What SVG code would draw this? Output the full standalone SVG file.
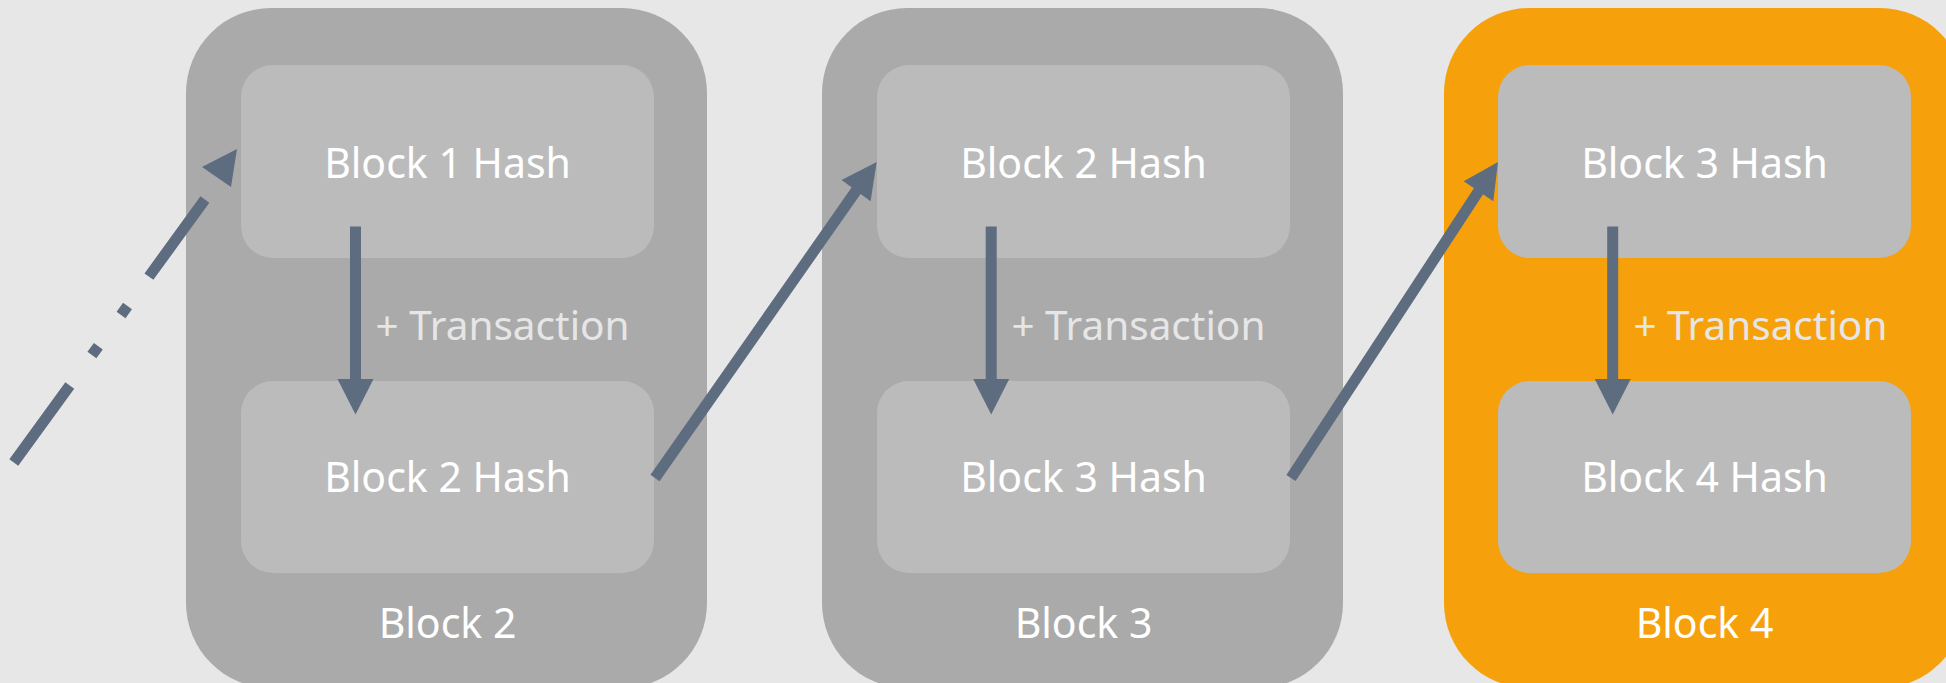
<svg xmlns="http://www.w3.org/2000/svg" width="1946" height="683" viewBox="0 0 1946 683">
  <style>
    .outer { fill: #aaaaaa; }
    .outer.current { fill: #f6a10b; }
    .inner { fill: #bbbbbb; }
    .hash { font-family: "Noto Sans", "Open Sans", sans-serif; font-size: 41px; fill: #ffffff; text-anchor: middle; }
    .label { font-family: "Noto Sans", "Open Sans", sans-serif; font-size: 41px; fill: #ffffff; text-anchor: middle; }
    .tx { font-family: "Noto Sans", "Open Sans", sans-serif; font-size: 40.5px; fill: #e6e6e6; }
    .link { stroke: #5e6c80; stroke-width: 11; fill: none; }
    .head { fill: #5e6c80; }
  </style>

  <rect width="1946" height="683" fill="#e7e7e7"/>

  <!-- Block 2 -->
  <g id="block2">
    <rect class="outer" x="186" y="8" width="521" height="680" rx="85" ry="85"/>
    <rect class="inner" x="241" y="65" width="413" height="193" rx="32" ry="32"/>
    <rect class="inner" x="241" y="381" width="413" height="192" rx="32" ry="32"/>
    <text class="hash" x="447.5" y="177.5">Block 1 Hash</text>
    <text class="hash" x="447.5" y="492">Block 2 Hash</text>
    <text class="label" x="447.5" y="638">Block 2</text>
  </g>

  <!-- Block 3 -->
  <g id="block3">
    <rect class="outer" x="822" y="8" width="521" height="680" rx="85" ry="85"/>
    <rect class="inner" x="877" y="65" width="413" height="193" rx="32" ry="32"/>
    <rect class="inner" x="877" y="381" width="413" height="192" rx="32" ry="32"/>
    <text class="hash" x="1083.5" y="177.5">Block 2 Hash</text>
    <text class="hash" x="1083.5" y="492">Block 3 Hash</text>
    <text class="label" x="1083.5" y="638">Block 3</text>
  </g>

  <!-- Block 4 (current) -->
  <g id="block4">
    <rect class="outer current" x="1444" y="8" width="521" height="680" rx="85" ry="85"/>
    <rect class="inner" x="1498" y="65" width="413" height="193" rx="32" ry="32"/>
    <rect class="inner" x="1498" y="381" width="413" height="192" rx="32" ry="32"/>
    <text class="hash" x="1704.5" y="177.5">Block 3 Hash</text>
    <text class="hash" x="1704.5" y="492">Block 4 Hash</text>
    <text class="label" x="1704.5" y="638">Block 4</text>
  </g>

  <!-- Connectors -->
  <g id="connectors">
    <!-- link from the previous block (dash-dot-dot) -->
    <line class="link" x1="13.8" y1="462.5" x2="204.9" y2="199.6" stroke-dasharray="95.2 37.6 11 38.6 11 36.4 95.3 100"/>
    <polygon class="head" points="237,149 202,167 231,187"/>

    <!-- Block 2 hash into block 3 -->
    <line class="link" x1="655" y1="478" x2="858" y2="188"/>
    <polygon class="head" points="876.7,162 841.6,180 870.6,201.2"/>

    <!-- Block 3 hash into block 4 -->
    <line class="link" x1="1291" y1="478" x2="1480" y2="189"/>
    <polygon class="head" points="1498,162 1463.7,181.2 1493.3,201.2"/>

    <!-- hash + transaction arrows -->
    <line class="link" x1="355.5" y1="226.5" x2="355.5" y2="381" stroke-width="12"/>
    <polygon class="head" points="337.5,379 373.5,379 355.5,414.6"/>
    <line class="link" x1="991.2" y1="226.5" x2="991.2" y2="381" stroke-width="12"/>
    <polygon class="head" points="973.2,379 1009.2,379 991.2,414.6"/>
    <line class="link" x1="1612.7" y1="226.5" x2="1612.7" y2="381" stroke-width="12"/>
    <polygon class="head" points="1594.7,379 1630.7,379 1612.7,414.6"/>
  </g>

  <g id="tx-labels">
    <text class="tx" x="375.6" y="339.7">+ Transaction</text>
    <text class="tx" x="1011.4" y="339.7">+ Transaction</text>
    <text class="tx" x="1633.4" y="339.7">+ Transaction</text>
  </g>
</svg>
